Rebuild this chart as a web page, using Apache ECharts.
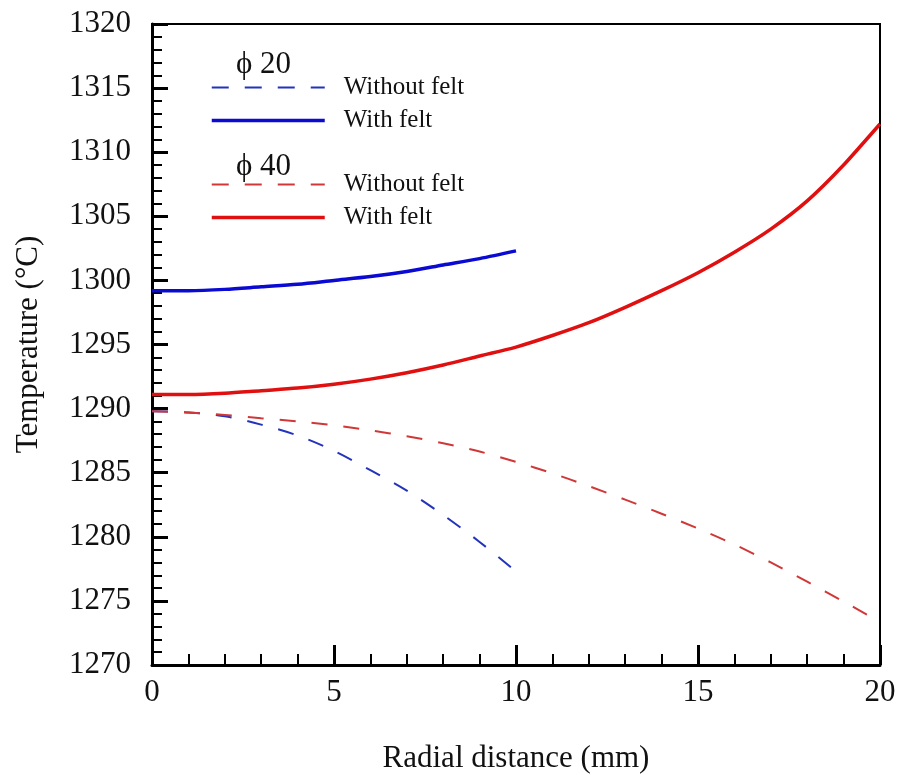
<!DOCTYPE html>
<html>
<head>
<meta charset="utf-8">
<script src="https://cdn.jsdelivr.net/npm/echarts@6/dist/echarts.min.js"></script>
<style>html,body{margin:0;padding:0;background:#fff;}#c{width:899px;height:775px;}</style>
</head>
<body>
<div id="c"></div>
<script>
// Radial distance (mm)
const x20 = [0,1,2,3,4,5,6,7,8,9,10];
const x40 = [0,1,2,3,4,5,6,7,8,9,10,11,12,13,14,15,16,17,18,19,20];
// Temperature (°C)
const phi20Without = [1289.8,1289.7,1289.4,1288.75,1287.9,1286.7,1285.2,1283.6,1281.7,1279.6,1277.3];
const phi20With    = [1299.2,1299.2,1299.3,1299.5,1299.7,1300.0,1300.3,1300.7,1301.2,1301.7,1302.3];
const phi40Without = [1289.8,1289.7,1289.5,1289.25,1289.0,1288.7,1288.3,1287.85,1287.3,1286.65,1285.85,1284.95,1283.95,1282.9,1281.8,1280.65,1279.4,1278.0,1276.5,1274.95,1273.35];
const phi40With    = [1291.1,1291.1,1291.2,1291.4,1291.6,1291.9,1292.3,1292.8,1293.4,1294.1,1294.8,1295.7,1296.7,1297.9,1299.2,1300.6,1302.2,1304.0,1306.2,1309.0,1312.2];
const xTicks = [0,5,10,15,20];
const yTicks = [1270,1275,1280,1285,1290,1295,1300,1305,1310,1315,1320];
const groupTitles = ['\u03d5 20','\u03d5 40'];
const itemLabels = ['Without felt','With felt'];

const zip = (xs, ys) => xs.map((x,i)=>[x, ys[i]]);
const FONT = 'Liberation Serif';
const C = {b20d:'#2333bb', b20s:'#0a0ad2', r40d:'#d03838', r40s:'#e01010'};
const chart = echarts.init(document.getElementById('c'), null, {renderer:'canvas'});

const legendBase = {
  orient:'vertical', left:210, padding:0, itemWidth:113, itemHeight:14,
  itemGap:8,
  itemStyle:{opacity:0, borderWidth:0},
  textStyle:{fontFamily:FONT, fontSize:25, color:'#111', lineHeight:24, padding:[0,0,0,14]},
  formatter: n => n.indexOf('Without')>=0 ? itemLabels[0] : itemLabels[1],
  selectedMode:false
};

chart.setOption({
  animation:false,
  backgroundColor:'#fff',
  grid:{left:152, right:19, top:24, bottom:110, outerBoundsMode:'none', containLabel:false,
        show:true, borderColor:'#000', borderWidth:2, backgroundColor:'transparent'},
  title:[
    {text:groupTitles[0], left:236, top:49, textStyle:{fontFamily:FONT, fontSize:31, fontWeight:'normal', color:'#111'}, padding:0},
    {text:groupTitles[1], left:236, top:151, textStyle:{fontFamily:FONT, fontSize:31, fontWeight:'normal', color:'#111'}, padding:0}
  ],
  legend:[
    Object.assign({}, legendBase, {top:75, data:[
      {name:'phi20 Without felt', lineStyle:{width:2, color:C.b20d, type:[17,16]}},
      {name:'phi20 With felt', lineStyle:{width:3.5, color:C.b20s}}]}),
    Object.assign({}, legendBase, {top:172, data:[
      {name:'phi40 Without felt', lineStyle:{width:2, color:C.r40d, type:[17,16]}},
      {name:'phi40 With felt', lineStyle:{width:3.5, color:C.r40s}}]})
  ],
  xAxis:{
    type:'value', min:0, max:20, interval:5,
    name:'Radial distance (mm)', nameLocation:'middle', nameGap:78,
    nameTextStyle:{fontFamily:FONT, fontSize:31, color:'#111'},
    axisLine:{show:true, onZero:false, lineStyle:{color:'#000', width:3}},
    axisTick:{show:true, inside:true, length:20, lineStyle:{color:'#000', width:3}},
    minorTick:{show:true, splitNumber:5, length:11, lineStyle:{color:'#000', width:2}},
    splitLine:{show:false},
    axisLabel:{fontFamily:FONT, fontSize:31, color:'#111', margin:12,
      formatter: v => xTicks.includes(v) ? String(v) : ''}
  },
  yAxis:{
    type:'value', min:1270, max:1320, interval:5,
    name:'Temperature (\u00b0C)', nameLocation:'middle', nameGap:108,
    nameTextStyle:{fontFamily:FONT, fontSize:31, color:'#111'},
    axisLine:{show:true, onZero:false, lineStyle:{color:'#000', width:3}},
    axisTick:{show:true, inside:true, length:16, lineStyle:{color:'#000', width:3}},
    minorTick:{show:true, splitNumber:5, length:10, lineStyle:{color:'#000', width:2}},
    splitLine:{show:false},
    axisLabel:{fontFamily:FONT, fontSize:31, color:'#111', margin:21,
      formatter: v => yTicks.includes(v) ? String(v) : ''}
  },
  series:[
    {name:'phi20 Without felt', type:'line', data:zip(x20, phi20Without), smooth:0.3, symbol:'none',
     lineStyle:{color:C.b20d, width:2, type:[16,16]}, itemStyle:{color:C.b20d}},
    {name:'phi20 With felt', type:'line', data:zip(x20, phi20With), smooth:0.3, symbol:'none',
     lineStyle:{color:C.b20s, width:3.5}, itemStyle:{color:C.b20s}},
    {name:'phi40 Without felt', type:'line', data:zip(x40, phi40Without), smooth:0.3, symbol:'none',
     lineStyle:{color:C.r40d, width:2, type:[16,16]}, itemStyle:{color:C.r40d}},
    {name:'phi40 With felt', type:'line', data:zip(x40, phi40With), smooth:0.3, symbol:'none',
     lineStyle:{color:C.r40s, width:3.5}, itemStyle:{color:C.r40s}}
  ]
});
</script>
</body>
</html>
